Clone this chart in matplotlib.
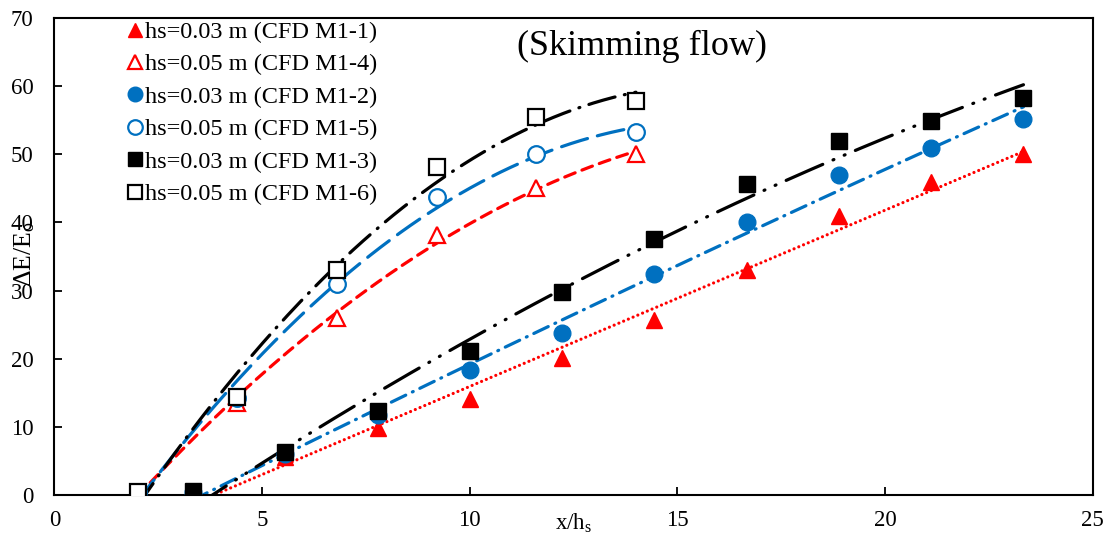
import numpy as np
import matplotlib
matplotlib.use("Agg")
import matplotlib.pyplot as plt
from matplotlib.lines import Line2D

plt.rcParams['font.family'] = ['Liberation Serif', 'DejaVu Serif']
plt.rcParams['mathtext.fontset'] = 'custom'
plt.rcParams['mathtext.rm'] = 'Liberation Serif'
plt.rcParams['mathtext.it'] = 'Liberation Serif:italic'

# hs = 0.03 m series (x/hs)
x_03 = [3.33, 5.56, 7.78, 10.0, 12.22, 14.44, 16.67, 18.89, 21.11, 23.33]
m1_1 = [0.3, 5.6, 9.8, 14.1, 20.1, 25.7, 33.0, 41.0, 46.0, 50.0]
m1_2 = [0.5, 6.0, 11.7, 18.3, 23.8, 32.4, 40.0, 47.0, 51.0, 55.2]
m1_3 = [0.6, 6.3, 12.4, 21.1, 29.8, 37.6, 45.7, 52.0, 54.9, 58.2]

# hs = 0.05 m series (x/hs)
x_05 = [2.0, 4.4, 6.8, 9.2, 11.6, 14.0]
m1_4 = [0.5, 13.5, 26.0, 38.2, 45.1, 50.0]
m1_5 = [0.5, 14.2, 31.0, 43.8, 50.0, 53.3]
m1_6 = [0.5, 14.4, 33.0, 48.2, 55.5, 57.8]

labels = ["hs=0.03 m (CFD M1-1)", "hs=0.05 m (CFD M1-4)", "hs=0.03 m (CFD M1-2)",
          "hs=0.05 m (CFD M1-5)", "hs=0.03 m (CFD M1-3)", "hs=0.05 m (CFD M1-6)"]

RED = '#FF0000'
BLUE = '#0070C0'
BLACK = '#000000'

fig = plt.figure(figsize=(11.07, 5.42), dpi=100)
ax = fig.add_axes([0.0492, 0.0867, 0.938, 0.880])

# (x, y, marker, colour, filled, linestyle, trend order)
series = [
    (x_03, m1_1, '^', RED, True, (0, (0.01, 1.6)), 1),
    (x_05, m1_4, '^', RED, False, (0, (3.5, 2.3)), 2),
    (x_03, m1_2, 'o', BLUE, True, (0, (5.0, 2.3, 0.3, 2.3)), 2),
    (x_05, m1_5, 'o', BLUE, False, (0, (8.5, 3.2)), 2),
    (x_03, m1_3, 's', BLACK, True, (0, (12.5, 3.5, 0.3, 3.5, 0.3, 3.5)), 2),
    (x_05, m1_6, 's', BLACK, False, (0, (8.5, 3.0, 0.3, 3.0)), 2),
]

lw = 2.3
handles = []
for (xs, ys, mk, col, filled, ls, order), lab in zip(series, labels):
    xs = np.array(xs)
    ys = np.array(ys)
    coef = np.polyfit(xs, ys, order)
    xf = np.linspace(xs.min(), xs.max(), 200)
    yf = np.polyval(coef, xf)
    ln, = ax.plot(xf, yf, color=col, lw=lw, linestyle=ls, zorder=2)
    ln.set_dash_capstyle('round')
    ms = 12
    if filled:
        ax.plot(xs, ys, linestyle='none', marker=mk, ms=ms, color=col,
                markeredgecolor=col, zorder=3)
        h = Line2D([], [], linestyle='none', marker=mk, ms=10.5, color=col, markeredgecolor=col)
    else:
        ax.plot(xs, ys, linestyle='none', marker=mk, ms=ms, markerfacecolor='white',
                markeredgecolor=col, markeredgewidth=1.6, zorder=3)
        h = Line2D([], [], linestyle='none', marker=mk, ms=10.5, markerfacecolor='white',
                   markeredgecolor=col, markeredgewidth=1.6)
    handles.append(h)

ax.set_xlim(0, 25)
ax.set_ylim(0, 70)
ax.set_xticks([0, 5, 10, 15, 20, 25])
ax.set_yticks(range(0, 71, 10))
ax.tick_params(axis='both', direction='in', length=6, width=1.3, labelsize=16.5)
ax.tick_params(axis='x', pad=11)
ax.tick_params(axis='y', pad=15)
for sp in ax.spines.values():
    sp.set_linewidth(1.5)

ax.set_xlabel(r'x/h$_\mathrm{s}$', fontsize=16.5)
ax.xaxis.set_label_coords(0.50, -0.035)
ax.xaxis.label.set_va('top')
ax.set_ylabel(r'$\mathrm{\Delta}$E/E$_\mathrm{o}$', fontsize=18.5)
ax.yaxis.set_label_coords(-0.017, 0.505)

ax.text(0.566, 0.94, '(Skimming flow)', transform=ax.transAxes, fontsize=26,
        ha='center', va='center')

leg = ax.legend(handles, labels, loc='upper left', bbox_to_anchor=(0.066, 1.004),
                frameon=False, fontsize=17.5, handlelength=0.6, handletextpad=0.1,
                labelspacing=0.43, borderaxespad=0.0, borderpad=0.2)

fig.savefig('out.png', dpi=100)
